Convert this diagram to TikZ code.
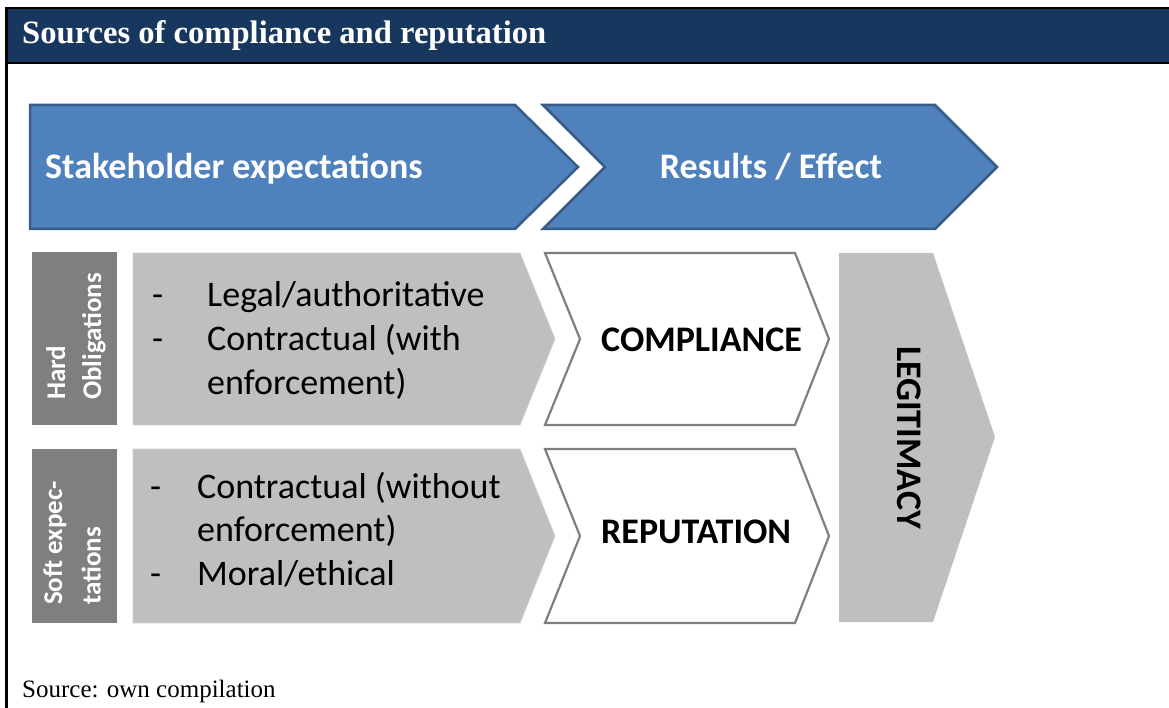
\documentclass[tikz,border=0pt]{standalone}
\usepackage{fontspec}
\setmainfont{Liberation Serif}
\newfontfamily\carl{Carlito}
\definecolor{navy}{HTML}{17375E}
\definecolor{bluefill}{HTML}{4F81BD}
\definecolor{blueline}{HTML}{385D8A}
\definecolor{darkgrey}{HTML}{7F7F7F}
\definecolor{lightgrey}{HTML}{BFBFBF}
\definecolor{faintgrey}{HTML}{D0D0D0}
\tikzset{
  blueshape/.style={fill=bluefill,draw=blueline,line width=2.5pt,line join=miter},
  darkbox/.style={fill=darkgrey},
  lightshape/.style={fill=lightgrey,draw=faintgrey,line width=0.8pt},
  whiteshape/.style={fill=white,draw=darkgrey,line width=2.2pt,line join=miter},
  headtext/.style={text=white,inner sep=0pt,font=\carl\bfseries\fontsize{36}{43}\selectfont},
  labeltext/.style={text=white,inner sep=0pt,rotate=90,anchor=base west,font=\carl\bfseries\fontsize{27}{36}\selectfont},
  listtext/.style={inner sep=0pt,anchor=base west,font=\carl\fontsize{36}{43.5}\selectfont},
  resulttext/.style={inner sep=0pt,anchor=base west,font=\carl\bfseries\fontsize{36}{43}\selectfont},
}
\begin{document}
\begin{tikzpicture}[x=1pt,y=-1pt]
\useasboundingbox (0,0) rectangle (1169,708);
% header
\fill[navy] (6,8) rectangle (1169,63);
\draw[line width=2.6pt] (5,8) -- (1169,8);
\draw[line width=2.6pt] (5,63) -- (1169,63);
\draw[line width=2.6pt] (6.5,7) -- (6.5,708);
\node[anchor=base west,inner sep=0pt,text=white,font=\bfseries\fontsize{32.6}{36}\selectfont] (title) at (22,43.5) {Sources of compliance and reputation};
% blue chevrons
\draw[blueshape] (30,105) -- (515,105) -- (578,167) -- (515,229) -- (30,229) -- cycle;
\draw[blueshape] (543,105) -- (935,105) -- (997,167) -- (935,229) -- (543,229) -- (605,167) -- cycle;
\node[headtext,anchor=base west] (stake) at (45,179) {Stakeholder expectations};
\node[headtext,anchor=base] (results) at (771,179) {Results / Effect};
% dark label boxes
\fill[darkbox] (32,252) rectangle (117,425);
\fill[darkbox] (32,449) rectangle (117,623);
\node[labeltext] (hard1) at (65,400) {Hard};
\node[labeltext] (hard2) at (101,400) {Obligations};
\node[labeltext] (soft1) at (62,605) {Soft expec-};
\node[labeltext] (soft2) at (100.5,605) {tations};
% light grey chevrons
\draw[lightshape] (133,253) -- (520,253) -- (555,339) -- (520,425) -- (133,425) -- cycle;
\draw[lightshape] (133,449) -- (520,449) -- (555,536) -- (520,623) -- (133,623) -- cycle;
\node[listtext] (h1d) at (152,307) {-};
\node[listtext] (h1) at (207,307) {Legal/authoritative};
\node[listtext] (h2d) at (152,350.5) {-};
\node[listtext] (h2) at (207,350.5) {Contractual (with};
\node[listtext] (h3) at (207,394) {enforcement)};
\node[listtext] (s1d) at (150,498) {-};
\node[listtext] (s1) at (197,498) {Contractual (without};
\node[listtext] (s2) at (197,541.5) {enforcement)};
\node[listtext] (s3d) at (150,585) {-};
\node[listtext] (s3) at (197,585) {Moral/ethical};
% white chevrons
\draw[whiteshape] (545,253) -- (795,253) -- (829,339) -- (795,425) -- (545,425) -- (580,339) -- cycle;
\draw[whiteshape] (545,449) -- (795,449) -- (829,536) -- (795,623) -- (545,623) -- (580,536) -- cycle;
\node[resulttext] (comp) at (601,351.5) {COMPLIANCE};
\node[resulttext] (rep) at (601,543.5) {REPUTATION};
% legitimacy
\fill[lightgrey] (839,253) -- (933,253) -- (995,437) -- (933,622) -- (839,622) -- cycle;
\node[inner sep=0pt,rotate=-90,font=\carl\bfseries\fontsize{36}{43}\selectfont] (legit) at (909,437.5) {LEGITIMACY};
% source
\node[anchor=base west,inner sep=0pt,font=\fontsize{25}{30}\selectfont] (source) at (22,697) {Source: own compilation};
\end{tikzpicture}
\end{document}
